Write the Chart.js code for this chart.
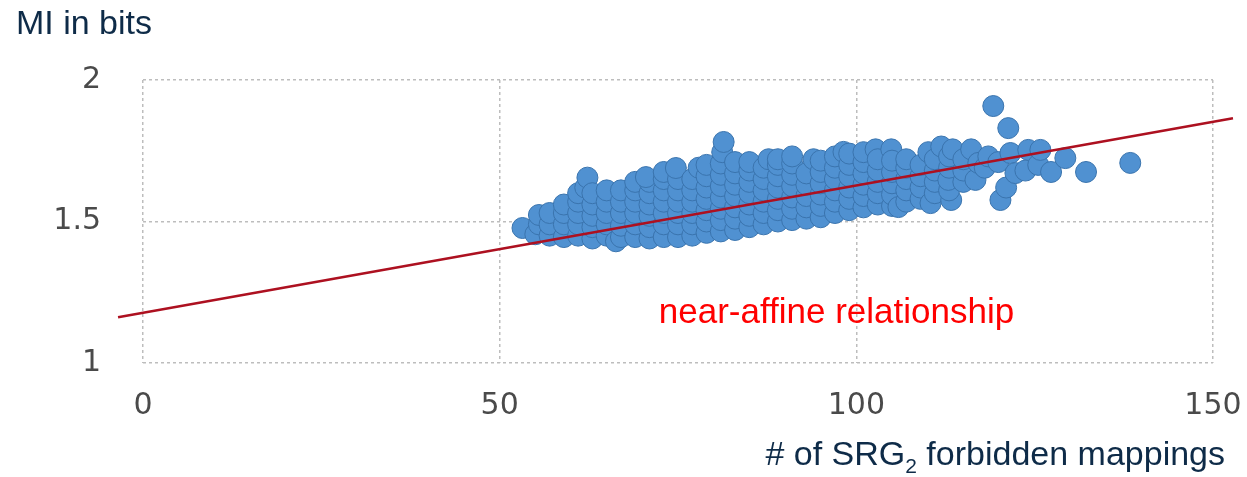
<!DOCTYPE html>
<html>
<head>
<meta charset="utf-8">
<title>MI in bits vs # of SRG2 forbidden mappings</title>
<script src="https://cdn.jsdelivr.net/npm/chart.js@4.4.1/dist/chart.umd.min.js"></script>
<style>
  html, body { margin: 0; padding: 0; background: #fff; }
  #wrap { width: 1247px; height: 477px; }
</style>
</head>
<body>
<div id="wrap"><canvas id="miChart" width="1247" height="477"></canvas></div>
<script>
'use strict';

const xTicks = [0, 50, 100, 150];
const yTicks = [1, 1.5, 2];

const yTitle = 'MI in bits';
const xTitle = ['# of SRG', '2', ' forbidden mappings'];
const note = 'near-affine relationship';

// [forbidden mappings, MI bits]
const miPoints = [
  [53.2, 1.477],
  [55, 1.455], [55.5, 1.49], [55.5, 1.523],
  [57, 1.45], [57, 1.49], [57, 1.53],
  [59, 1.445], [59, 1.49], [59, 1.53], [59, 1.56],
  [61, 1.45], [61, 1.49], [61, 1.53], [61, 1.57], [61, 1.60],
  [62, 1.62], [62.3, 1.655],
  [63, 1.44], [63, 1.48], [63, 1.52], [63, 1.56], [63, 1.60],
  [65, 1.45], [65, 1.49], [65, 1.53], [65, 1.57], [65, 1.61],
  [66.3, 1.43],
  [67, 1.445], [67, 1.485], [67, 1.53], [67, 1.57], [67, 1.61],
  [69, 1.445], [69, 1.49], [69, 1.53], [69, 1.57], [69, 1.61], [69, 1.64],
  [71, 1.44], [71, 1.48], [71, 1.52], [71, 1.56], [71, 1.60], [71, 1.64], [70.5, 1.657],
  [73, 1.445], [73, 1.49], [73, 1.53], [73, 1.57], [73, 1.61], [73, 1.65], [73, 1.675],
  [75, 1.445], [75, 1.49], [75, 1.53], [75, 1.57], [75, 1.61], [75, 1.65], [74.7, 1.689],
  [77, 1.45], [77, 1.49], [77, 1.53], [77, 1.57], [77, 1.61], [77, 1.65], [77.9, 1.69],
  [79, 1.46], [79, 1.50], [79, 1.54], [79, 1.58], [79, 1.62], [79, 1.66], [79, 1.70],
  [81, 1.465], [81, 1.505], [81, 1.545], [81, 1.585], [81, 1.625], [81, 1.665], [81, 1.705], [81.2, 1.745], [81.4, 1.781],
  [83, 1.47], [83, 1.51], [83, 1.55], [83, 1.59], [83, 1.63], [83, 1.67], [83, 1.71],
  [85, 1.48], [85, 1.52], [85, 1.56], [85, 1.60], [85, 1.64], [85, 1.68], [85, 1.71],
  [87, 1.49], [87, 1.53], [87, 1.57], [87, 1.61], [87, 1.65], [87, 1.69], [87.7, 1.72],
  [89, 1.50], [89, 1.54], [89, 1.58], [89, 1.62], [89, 1.66], [89, 1.70], [89, 1.72],
  [91, 1.505], [91, 1.545], [91, 1.585], [91, 1.625], [91, 1.665], [91, 1.705], [91, 1.73],
  [93, 1.51], [93, 1.55], [93, 1.59], [93, 1.63], [93, 1.67], [94, 1.72],
  [95, 1.515], [95, 1.555], [95, 1.595], [95, 1.635], [95, 1.675], [95, 1.715],
  [97, 1.53], [97, 1.57], [97, 1.61], [97, 1.65], [97, 1.69], [97, 1.73], [98.2, 1.746],
  [99, 1.54], [99, 1.58], [99, 1.62], [99, 1.66], [99, 1.70], [99, 1.74],
  [101, 1.55], [101, 1.59], [101, 1.63], [101, 1.67], [101, 1.71], [101, 1.745],
  [102.7, 1.755], [103, 1.56], [103, 1.60], [103, 1.64], [103, 1.68], [103, 1.72],
  [104.9, 1.755], [105, 1.555], [105, 1.595], [105, 1.635], [105, 1.675], [105, 1.715],
  [105.9, 1.551],
  [107, 1.57], [107, 1.61], [107, 1.65], [107, 1.69], [107, 1.72],
  [109, 1.58], [109, 1.62], [109, 1.66], [109, 1.70], [110.1, 1.745],
  [110.4, 1.565], [111, 1.60], [111, 1.64], [111, 1.68], [111, 1.72], [111.9, 1.765],
  [113.3, 1.576], [113, 1.61], [112.9, 1.647], [113, 1.69], [113, 1.73], [113.5, 1.755],
  [115, 1.64], [115, 1.68], [115, 1.72], [116.1, 1.755],
  [116.7, 1.647], [117.1, 1.707], [118, 1.69], [118.5, 1.73],
  [119.9, 1.71], [119.2, 1.908], [121.3, 1.83], [120.2, 1.576], [121.0, 1.62],
  [121.6, 1.742], [122.3, 1.671], [123.7, 1.68], [124.1, 1.753], [125.5, 1.70],
  [125.8, 1.753], [127.3, 1.675], [129.3, 1.724], [132.2, 1.675], [138.4, 1.707]
];

// fitted line, end points
const fitX = [-3.5, 152.8];
const fitY = [1.162, 1.865];

const navy = '#0e2b48';

const textPlugin = {
  id: 'texts',
  afterDraw(chart) {
    const { ctx, scales: { x, y } } = chart;
    ctx.save();
    ctx.textBaseline = 'alphabetic';
    ctx.textAlign = 'left';

    ctx.fillStyle = navy;
    ctx.font = '34px "Liberation Sans", Arial, sans-serif';
    ctx.fillText(yTitle, 16, 34);

    // x title with subscript, right aligned
    const big = '34px "Liberation Sans", Arial, sans-serif';
    const small = '21px "Liberation Sans", Arial, sans-serif';
    ctx.font = big;
    const w0 = ctx.measureText(xTitle[0]).width;
    const w2 = ctx.measureText(xTitle[2]).width;
    ctx.font = small;
    const w1 = ctx.measureText(xTitle[1]).width;
    let tx = 1225 - (w0 + w1 + w2);
    ctx.font = big;
    ctx.fillText(xTitle[0], tx, 465);
    tx += w0;
    ctx.font = small;
    ctx.fillText(xTitle[1], tx, 473);
    tx += w1;
    ctx.font = big;
    ctx.fillText(xTitle[2], tx, 465);

    ctx.fillStyle = '#ff0000';
    ctx.font = '35px "Liberation Sans", Arial, sans-serif';
    ctx.fillText(note, x.getPixelForValue(72.3), y.getPixelForValue(1.141));
    ctx.restore();
  }
};

const gridStyle = { color: '#bdbdbd', lineWidth: 1.5, drawTicks: false };
const tickFont = { family: '"DejaVu Sans", Verdana, sans-serif', size: 30 };

new Chart(document.getElementById('miChart'), {
  type: 'scatter',
  data: {
    datasets: [
      {
        type: 'line',
        data: fitX.map((v, i) => ({ x: v, y: fitY[i] })),
        borderColor: '#ad1020',
        borderWidth: 2.5,
        pointRadius: 0,
        clip: false,
        order: 0
      },
      {
        data: miPoints.map(p => ({ x: p[0], y: p[1] })),
        backgroundColor: '#5091d1',
        borderColor: '#3a74ae',
        borderWidth: 1,
        pointRadius: 10.5,
        order: 1
      }
    ]
  },
  options: {
    responsive: false,
    animation: false,
    layout: { padding: { top: 80, right: 34, left: 0, bottom: 0 } },
    plugins: { legend: { display: false }, tooltip: { enabled: false } },
    scales: {
      x: {
        type: 'linear',
        min: 0,
        max: 150,
        afterBuildTicks: s => { s.ticks = xTicks.map(v => ({ value: v })); },
        afterFit: s => { s.height = 114; s.paddingLeft = 0; s.paddingRight = 0; },
        grid: gridStyle,
        border: { display: false, dash: [3, 3] },
        ticks: { color: '#4a4a4a', font: tickFont, padding: 25, maxRotation: 0, callback: v => String(v) }
      },
      y: {
        type: 'linear',
        min: 1,
        max: 2,
        afterBuildTicks: s => { s.ticks = yTicks.map(v => ({ value: v })); },
        afterFit: s => { s.width = 143; s.paddingTop = 0; s.paddingBottom = 0; },
        grid: gridStyle,
        border: { display: false, dash: [3, 3] },
        ticks: { color: '#4a4a4a', font: tickFont, padding: 42, callback: v => String(v) }
      }
    }
  },
  plugins: [textPlugin]
});
</script>
</body>
</html>
